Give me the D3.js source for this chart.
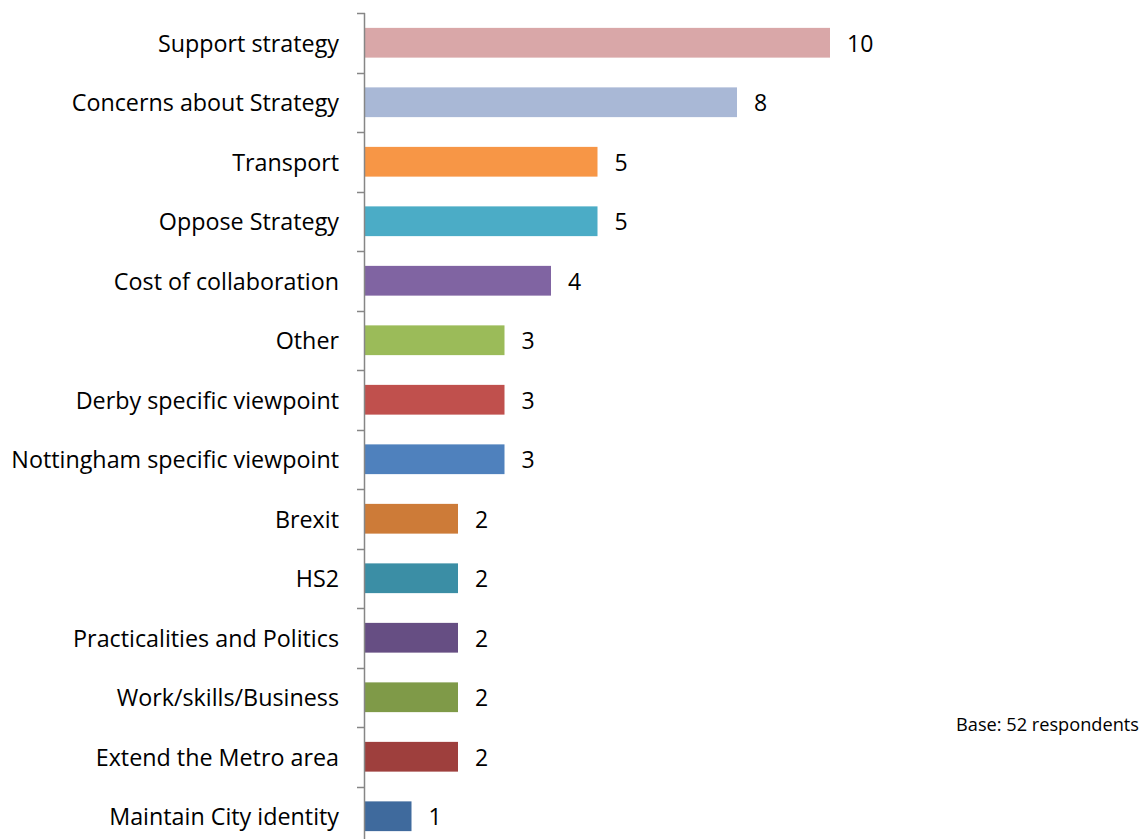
<!DOCTYPE html>
<html><head><meta charset="utf-8">
<script src="https://cdn.jsdelivr.net/npm/d3@7"></script>
<style>body{margin:0;background:#fff;overflow:hidden} text{font-variant-ligatures:none}</style>
</head><body>
<script>
const categories = ["Support strategy","Concerns about Strategy","Transport","Oppose Strategy","Cost of collaboration","Other","Derby specific viewpoint","Nottingham specific viewpoint","Brexit","HS2","Practicalities and Politics","Work/skills/Business","Extend the Metro area","Maintain City identity"];
const values = [10,8,5,5,4,3,3,3,2,2,2,2,2,1];
const colors = ["#D9A7A8","#A9B8D6","#F79646","#4BACC6","#8064A2","#9BBB59","#C0504D","#4F81BD","#CD7B38","#3B8EA5","#664E83","#7F9A48","#9E3F3D","#3F6A9D"];
const note = "Base: 52 respondents";

const W = 1143, H = 839;
const svg = d3.select("body").append("svg").attr("width", W).attr("height", H);
const font = "'Open Sans', sans-serif";

const x = d3.scaleLinear().domain([0, 10]).range([365, 830]);
const y = d3.scaleBand().domain(categories).range([13, 846]).paddingInner(0.5).paddingOuter(0.25);

svg.selectAll("rect.bar").data(categories).join("rect")
  .attr("x", x(0)).attr("y", d => y(d))
  .attr("width", (d, i) => x(values[i]) - x(0))
  .attr("height", y.bandwidth())
  .attr("fill", (d, i) => colors[i]);

const g = svg.append("g");
g.append("line").attr("x1", 364.5).attr("x2", 364.5).attr("y1", 13).attr("y2", 846)
  .attr("stroke", "#868686").attr("stroke-width", 1.5);
const bounds = d3.range(categories.length + 1).map(i => 13 + i * y.step());
g.selectAll("line.tick").data(bounds).join("line")
  .attr("x1", 357).attr("x2", 365).attr("y1", d => Math.round(d) + 0.5).attr("y2", d => Math.round(d) + 0.5)
  .attr("stroke", "#868686").attr("stroke-width", 1.5);

svg.selectAll("text.cat").data(categories).join("text")
  .attr("x", 339).attr("y", d => y(d) + y.bandwidth() / 2)
  .attr("text-anchor", "end").attr("dominant-baseline", "central")
  .attr("font-family", font).attr("font-size", 23.3).attr("fill", "#000")
  .text(d => d);

svg.selectAll("text.val").data(categories).join("text")
  .attr("x", (d, i) => x(values[i]) + 17).attr("y", d => y(d) + y.bandwidth() / 2)
  .attr("dominant-baseline", "central")
  .attr("font-family", font).attr("font-size", 23).attr("fill", "#000")
  .text((d, i) => values[i]);

svg.append("text").attr("x", 1139).attr("y", 724).attr("text-anchor", "end")
  .attr("dominant-baseline", "central")
  .attr("font-family", font).attr("font-size", 18.2).attr("fill", "#000").text(note);
</script>
</body></html>
